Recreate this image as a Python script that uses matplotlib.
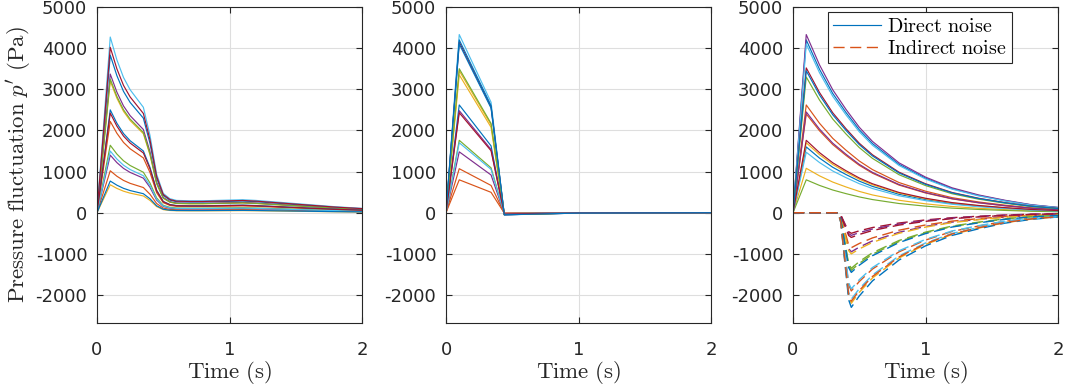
import matplotlib
matplotlib.use('Agg')
import matplotlib.pyplot as plt
import numpy as np

plt.rcParams['mathtext.fontset'] = 'cm'
plt.rcParams['axes.unicode_minus'] = False
plt.rcParams['font.family'] = ['DejaVu Sans']

# MATLAB default colour order
colors = ['#0072BD', '#D95319', '#EDB120', '#7E2F8E', '#77AC30', '#4DBEEE', '#A2142F']

# panel 1: full model (peak value of each case and normalised time profile)
peaks_full = [3830, 2220, 3200, 3370, 3250, 4270, 4020, 2500, 1020, 680, 1400, 1640, 1500, 2420, 770]
t_full = [0, 0.1, 0.15, 0.2, 0.25, 0.3, 0.35, 0.4, 0.45, 0.5, 0.55, 0.6, 0.7, 0.8,
          0.9, 1.0, 1.1, 1.2, 1.4, 1.6, 1.8, 2.0]
shape_full = [0, 1.0, 0.87, 0.77, 0.70, 0.65, 0.60, 0.44, 0.22, 0.11, 0.08, 0.07, 0.068, 0.068,
              0.07, 0.072, 0.074, 0.07, 0.058, 0.046, 0.034, 0.025]

# panel 2: compact model
peaks_comp = [2620, 1070, 3350, 1480, 1760, 4330, 4150, 4100, 800, 3450, 2480, 3500, 1700, 2430, 4200]
t_comp = [0, 0.1, 0.34, 0.44, 1.0, 2.0]
shape_comp = [0, 1.0, 0.62, -0.012, -0.002, 0]

# panel 3: direct and indirect noise
peaks_dir = [4200, 2620, 1080, 4330, 800, 4100, 3520, 1600, 2400, 1700, 2450, 3300, 1470, 1760, 3450]
t_dir = [0, 0.1, 0.2, 0.3, 0.4, 0.5, 0.6, 0.8, 1.0, 1.2, 1.4, 1.6, 1.8, 2.0]
shape_dir = [0, 1.0, 0.83, 0.69, 0.58, 0.48, 0.40, 0.28, 0.20, 0.14, 0.10, 0.07, 0.045, 0.03]

mins_ind = [-1900, -2200, -950, -1400, -1850, -500, -2300, -850, -1000, -550, -1350, -2100, -600, -1450, -2150]
t_ind = [0, 0.34, 0.36, 0.42, 0.44, 0.5, 0.6, 0.8, 1.0, 1.2, 1.4, 1.6, 1.8, 2.0]
shape_ind = [0, 0, 0.1, 0.92, 1.0, 0.88, 0.72, 0.5, 0.35, 0.24, 0.17, 0.11, 0.07, 0.045]

fig = plt.figure(figsize=(10.68, 3.91), dpi=100)
lefts = [97, 446, 793]
axes = [fig.add_axes([l / 1068, 1 - 323 / 391, 265 / 1068, 316 / 391]) for l in lefts]

lw = 0.85
for i, p in enumerate(peaks_full):
    axes[0].plot(t_full, np.array(shape_full) * p, color=colors[i % 7], lw=lw)
for i, p in enumerate(peaks_comp):
    axes[1].plot(t_comp, np.array(shape_comp) * p, color=colors[i % 7], lw=lw)
for i, p in enumerate(peaks_dir):
    axes[2].plot(t_dir, np.array(shape_dir) * p, color=colors[i % 7], lw=lw,
                 label=r'$\mathrm{Direct\ noise}$' if i == 0 else None)
for i, m in enumerate(mins_ind):
    axes[2].plot(t_ind, np.array(shape_ind) * m, color=colors[(i + 1) % 7], lw=1.0,
                 dashes=(8, 4), label=r'$\mathrm{Indirect\ noise}$' if i == 0 else None)

for ax in axes:
    ax.set_xlim(0, 2)
    ax.set_ylim(-2680, 5000)
    ax.set_xticks([0, 1, 2])
    ax.set_yticks(range(-2000, 5001, 1000))
    ax.grid(True, color='#dedede', lw=0.8)
    ax.set_axisbelow(True)
    for s in ax.spines.values():
        s.set_color('#262626')
        s.set_linewidth(0.8)
    ax.tick_params(direction='in', top=True, right=True, length=4, width=0.8,
                   colors='#262626', labelsize=13)
    ax.tick_params(axis='x', pad=13)
    ax.tick_params(axis='y', pad=7)
    ax.set_xlabel(r'$\mathrm{Time\ (s)}$', fontsize=16.5, labelpad=0, color='#262626')

axes[0].set_ylabel(r"$\mathrm{Pressure\ fluctuation\ }p'\ \mathrm{(Pa)}$", fontsize=16.5,
                   labelpad=2, color='#262626')

leg = axes[2].legend(loc='upper right', bbox_to_anchor=(0.827, 0.984), borderaxespad=0,
                     fontsize=14.5, fancybox=False, framealpha=1, edgecolor='#262626',
                     handlelength=2.4, handletextpad=0.3, borderpad=0.25, labelspacing=0.15)
leg.get_frame().set_linewidth(0.8)

fig.savefig('out.png', dpi=100)
